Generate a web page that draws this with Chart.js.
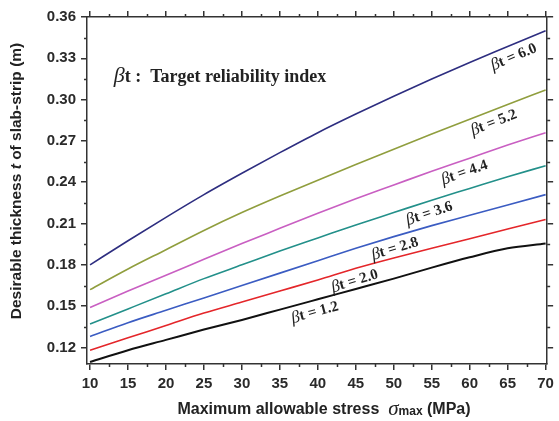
<!DOCTYPE html>
<html>
<head>
<meta charset="utf-8">
<script src="https://cdn.jsdelivr.net/npm/chart.js@4.4.0/dist/chart.umd.min.js"></script>
<style>
html, body { margin: 0; padding: 0; background: #fff; }
#wrap { width: 559px; height: 421px; position: relative; }
</style>
</head>
<body>
<div id="wrap"><canvas id="thickness-chart"></canvas></div>
<script>
// maximum allowable stress (MPa)
const sigmaMax = [10, 15, 20, 25, 30, 35, 40, 45, 50, 55, 60, 65, 70];

// desirable thickness t (m) for each target reliability index
const beta12 = [0.1095, 0.118, 0.1255, 0.133, 0.140, 0.1475, 0.155, 0.1625, 0.170, 0.178, 0.1855, 0.192, 0.1955];
const beta20 = [0.118, 0.127, 0.136, 0.145, 0.153, 0.161, 0.169, 0.1775, 0.185, 0.192, 0.199, 0.206, 0.213];
const beta28 = [0.128, 0.138, 0.147, 0.156, 0.165, 0.174, 0.183, 0.192, 0.2005, 0.2085, 0.216, 0.2235, 0.231];
const beta36 = [0.137, 0.148, 0.159, 0.170, 0.180, 0.190, 0.1995, 0.209, 0.218, 0.227, 0.2355, 0.244, 0.252];
const beta44 = [0.149, 0.161, 0.1725, 0.184, 0.1955, 0.2065, 0.2175, 0.228, 0.238, 0.248, 0.2575, 0.267, 0.276];
const beta52 = [0.162, 0.177, 0.191, 0.205, 0.218, 0.230, 0.2415, 0.2528, 0.264, 0.275, 0.2858, 0.2965, 0.307];
const beta60 = [0.180, 0.1975, 0.2145, 0.231, 0.2465, 0.2615, 0.276, 0.2895, 0.3025, 0.315, 0.327, 0.3385, 0.350];

const betaNames = ["1.2", "2.0", "2.8", "3.6", "4.4", "5.2", "6.0"];
const xTicks = [10, 15, 20, 25, 30, 35, 40, 45, 50, 55, 60, 65, 70];
const yTicks = [0.12, 0.15, 0.18, 0.21, 0.24, 0.27, 0.30, 0.33, 0.36];

const series = [beta12, beta20, beta28, beta36, beta44, beta52, beta60];
const colors = ["#111111", "#e4262a", "#3b5cc2", "#23908a", "#c95fc2", "#909e3e", "#2e2e80"];

// where along each curve its label sits (MPa)
const labelAt = [39.2, 44.4, 49.7, 54.2, 58.8, 62.6, 65.2];

const AX = "#333";
const SANS = '"Liberation Sans", Arial, sans-serif';
const SERIF = '"Liberation Serif", "Times New Roman", serif';

function interp(arr, s) {
    for (let i = 0; i < sigmaMax.length - 1; i++) {
        if (s >= sigmaMax[i] && s <= sigmaMax[i + 1]) {
            const f = (s - sigmaMax[i]) / (sigmaMax[i + 1] - sigmaMax[i]);
            return arr[i] + f * (arr[i + 1] - arr[i]);
        }
    }
    return arr[arr.length - 1];
}

// draw a row of differently styled text pieces, centred on x
function drawRuns(ctx, runs, x, y) {
    let total = 0;
    runs.forEach(r => { ctx.font = r.font; r.w = ctx.measureText(r.text).width; total += r.w; });
    let cx = x - total / 2;
    runs.forEach(r => {
        ctx.font = r.font;
        ctx.fillText(r.text, cx, y + (r.dy || 0));
        cx += r.w;
    });
}

const extras = {
    id: "extras",
    afterDatasetsDraw(chart) {
        const ctx = chart.ctx;
        const xs = chart.scales.x, ys = chart.scales.y;
        const area = chart.chartArea;

        // minor ticks
        ctx.save();
        ctx.strokeStyle = AX;
        ctx.lineWidth = 1.5;
        ctx.beginPath();
        for (let i = 0; i < xTicks.length - 1; i++) {
            const px = Math.round(xs.getPixelForValue((xTicks[i] + xTicks[i + 1]) / 2)) + 0.5;
            ctx.moveTo(px, area.bottom); ctx.lineTo(px, area.bottom + 3);
            ctx.moveTo(px, area.top); ctx.lineTo(px, area.top - 3);
        }
        for (let i = 0; i < yTicks.length - 1; i++) {
            const py = Math.round(ys.getPixelForValue((yTicks[i] + yTicks[i + 1]) / 2)) + 0.5;
            ctx.moveTo(area.left, py); ctx.lineTo(area.left - 3, py);
            ctx.moveTo(area.right, py); ctx.lineTo(area.right + 3, py);
        }
        ctx.stroke();

        ctx.fillStyle = "#222";
        ctx.textBaseline = "middle";
        ctx.textAlign = "left";

        // curve labels
        series.forEach((arr, k) => {
            const s = labelAt[k];
            const p0x = xs.getPixelForValue(s - 1), p0y = ys.getPixelForValue(interp(arr, s - 1));
            const p1x = xs.getPixelForValue(s + 1), p1y = ys.getPixelForValue(interp(arr, s + 1));
            const ang = Math.atan2(p1y - p0y, p1x - p0x);
            ctx.save();
            ctx.translate(xs.getPixelForValue(s), ys.getPixelForValue(interp(arr, s)));
            ctx.rotate(ang);
            drawRuns(ctx, [
                { text: "\u03b2", font: "italic 17px " + SERIF },
                { text: "t = " + betaNames[k], font: "bold 15px " + SERIF }
            ], 0, 12);
            ctx.restore();
        });

        // note in the upper left
        drawRuns(ctx, [
            { text: "\u03b2", font: "italic 22px " + SERIF, dy: -1 },
            { text: "t :  Target reliability index", font: "bold 18px " + SERIF }
        ], 220, 77);

        // x axis title
        drawRuns(ctx, [
            { text: "Maximum allowable stress  ", font: "bold 16px " + SANS },
            { text: "\u03c3", font: "italic 21px " + SERIF, dy: -1 },
            { text: "max", font: "bold 12px " + SANS, dy: 2 },
            { text: " (MPa)", font: "bold 16px " + SANS }
        ], 324, 410);

        // y axis title
        ctx.save();
        ctx.translate(17, 181);
        ctx.rotate(-Math.PI / 2);
        drawRuns(ctx, [
            { text: "Desirable thickness ", font: "bold 15.5px " + SANS },
            { text: "t", font: "italic bold 15.5px " + SANS },
            { text: " of slab-strip (m)", font: "bold 15.5px " + SANS }
        ], 0, 0);
        ctx.restore();
        ctx.restore();
    }
};

function axisGrid() {
    return { display: true, drawOnChartArea: false, drawTicks: true, tickLength: 6, color: AX, lineWidth: 1.5 };
}
const axisBorder = { display: true, color: AX, width: 1.5 };

new Chart(document.getElementById("thickness-chart").getContext("2d"), {
    type: "line",
    data: {
        datasets: series.map((arr, k) => ({
            label: "\u03b2t = " + betaNames[k],
            data: sigmaMax.map((s, i) => ({ x: s, y: arr[i] })),
            borderColor: colors[k],
            borderWidth: k === 0 ? 2 : 1.6,
            pointRadius: 0,
            cubicInterpolationMode: "monotone",
            fill: false
        }))
    },
    options: {
        responsive: true,
        maintainAspectRatio: false,
        animation: false,
        layout: { padding: 0 },
        plugins: { legend: { display: false }, tooltip: { enabled: false } },
        scales: {
            x: {
                type: "linear", position: "bottom", min: 9.6, max: 70.2,
                afterBuildTicks: sc => { sc.ticks = xTicks.map(v => ({ value: v })); },
                afterFit: sc => { sc.height = 57; },
                grid: axisGrid(), border: axisBorder,
                ticks: { color: "#2a2a2a", padding: 5, maxRotation: 0, font: { family: SANS, size: 15, weight: "bold" } }
            },
            x2: {
                type: "linear", position: "top", min: 9.6, max: 70.2,
                afterBuildTicks: sc => { sc.ticks = xTicks.map(v => ({ value: v })); },
                afterFit: sc => { sc.height = 17; },
                grid: axisGrid(), border: axisBorder,
                ticks: { display: false }
            },
            y: {
                type: "linear", position: "left", min: 0.108, max: 0.36,
                afterBuildTicks: sc => { sc.ticks = yTicks.map(v => ({ value: v })); },
                afterFit: sc => { sc.width = 87; },
                grid: axisGrid(), border: axisBorder,
                ticks: {
                    color: "#2a2a2a", padding: 5,
                    font: { family: SANS, size: 15, weight: "bold" },
                    callback: v => v.toFixed(2)
                }
            },
            y2: {
                type: "linear", position: "right", min: 0.108, max: 0.36,
                afterBuildTicks: sc => { sc.ticks = yTicks.map(v => ({ value: v })); },
                afterFit: sc => { sc.width = 5; },
                grid: axisGrid(), border: axisBorder,
                ticks: { display: false }
            }
        }
    },
    plugins: [extras]
});
</script>
</body>
</html>
